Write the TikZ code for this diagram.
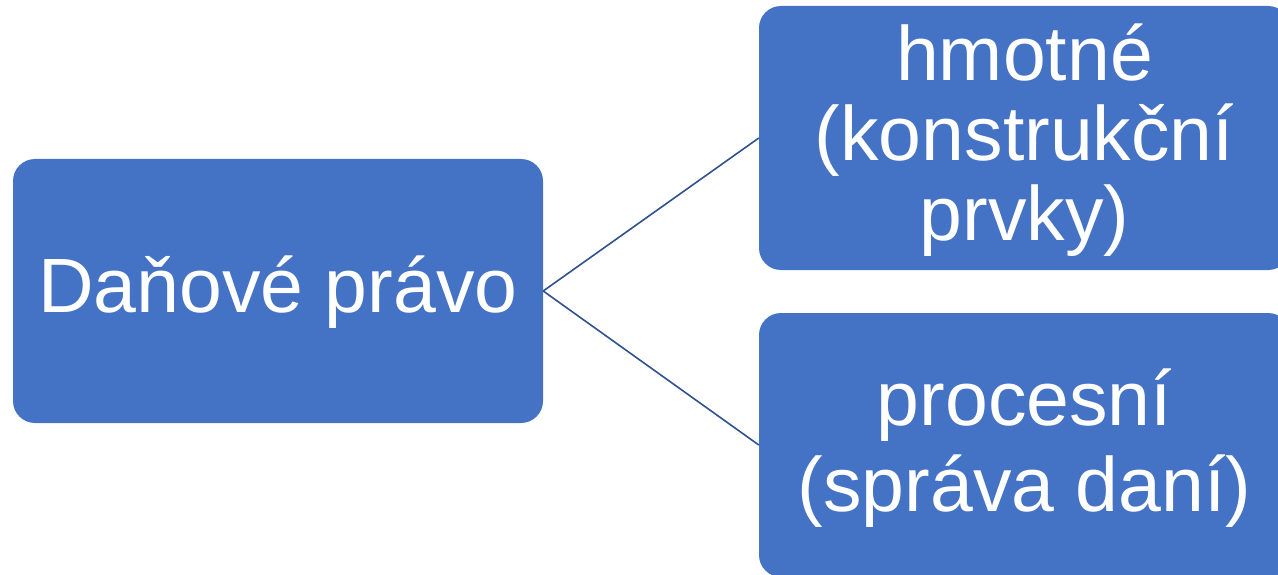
\documentclass[tikz,border=0pt]{standalone}
\usepackage{fontspec}
\setmainfont{Liberation Sans}
\definecolor{boxblue}{HTML}{4472C4}
\definecolor{linkblue}{HTML}{2F528F}
\begin{document}
\begin{tikzpicture}[x=1pt,y=-1pt,
  box/.style={rectangle, rounded corners=22pt, fill=boxblue, draw=none,
    inner sep=0pt, minimum width=530pt, minimum height=264pt},
  boxtext/.style={text=white, align=center, inner sep=0pt,
    font=\fontsize{77}{80}\selectfont},
  link/.style={draw=linkblue, line width=1.6pt}]
\useasboundingbox (0,0) rectangle (1278,575);
\node[box] (root) at (278,291) {};
\node[box, minimum width=531pt] (hm) at (1024.5,138) {};
\node[box, minimum width=531pt] (pr) at (1024.5,445) {};
\node[boxtext] (roottext) at ([yshift=-1pt]root.center) {Daňové právo};
\node[boxtext] (hmtext) at ([yshift=-2pt]hm.center) {hmotné\\(konstrukční\\prvky)};
\node[boxtext] (prtext) at ([yshift=-3.5pt]pr.center) {procesní\\[6pt](správa daní)};
\draw[link] (root.east) -- (hm.west);
\draw[link] (root.east) -- (pr.west);
\end{tikzpicture}
\end{document}
